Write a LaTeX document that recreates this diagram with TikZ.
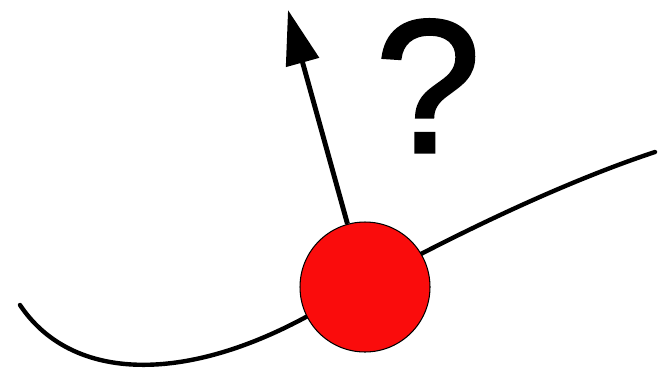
\documentclass[tikz,border=0pt]{standalone}
\usepackage{fontspec}
\setmainfont{Liberation Sans}
\newfontfamily\qfont[FakeBold=1.6]{Liberation Sans}
\usetikzlibrary{arrows.meta}
\definecolor{ballred}{RGB}{250,12,12}
\tikzset{
  curveline/.style={line width=2.5pt, line cap=round},
  ballnode/.style={circle, draw=black, line width=0.6pt, fill=ballred, minimum size=2.6cm, inner sep=0pt},
  vecarrow/.style={line width=2.8pt, -{Triangle[length=31pt,width=19pt]}},
  qmark/.style={font=\qfont\fontsize{108}{108}\selectfont, inner sep=0pt, anchor=base}
}
\begin{document}
\begin{tikzpicture}[x=0.02cm,y=-0.02cm]
\useasboundingbox (0,0) rectangle (665,368);
\draw[curveline] (20,305) .. controls (70,380) and (180,385) .. (306,317)
  .. controls (400,262) and (540,190) .. (655,152);
\node[ballnode] (ball) at (365,287) {};
\coordinate (tip) at (288,10);
\draw[vecarrow] (ball) -- (tip);
\node[qmark] (q) at (428,152) {?};
\end{tikzpicture}
\end{document}
